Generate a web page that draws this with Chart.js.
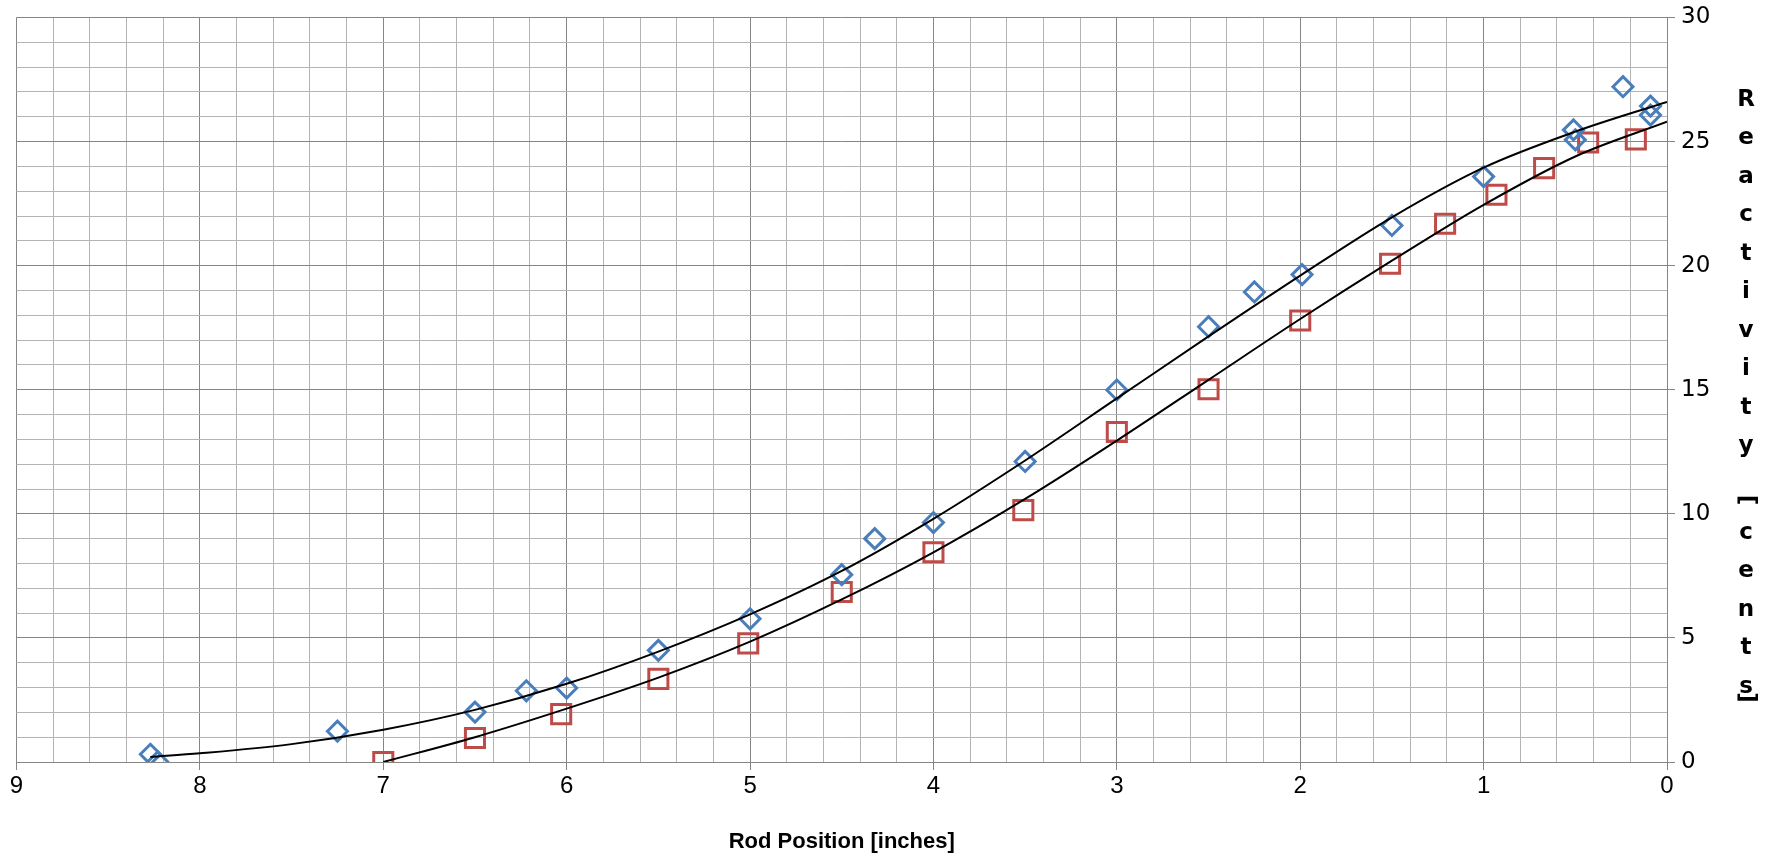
<!DOCTYPE html>
<html>
<head>
<meta charset="utf-8">
<script src="https://cdn.jsdelivr.net/npm/chart.js@4.4.1/dist/chart.umd.min.js"></script>
<style>
    html, body { margin: 0; padding: 0; background: #fff; }
    #wrap { width: 1768px; height: 853px; }
</style>
</head>
<body>
<div id="wrap"><canvas id="rodChart" width="1768" height="853"></canvas></div>
<script>
// measured points (blue diamonds)
const blueX = [8.27, 8.23, 7.25, 6.50, 6.22, 6.00, 5.50, 5.00, 4.50, 4.32, 4.00, 3.50, 3.00, 2.50, 2.25, 1.99, 1.50, 1.00, 0.51, 0.50, 0.24, 0.09, 0.09];
const blueY = [0.31, 0.01, 1.24, 2.01, 2.87, 2.98, 4.50, 5.77, 7.55, 9.00, 9.65, 12.11, 14.99, 17.54, 18.94, 19.64, 21.62, 23.59, 25.47, 25.07, 27.21, 26.43, 26.07];

// measured points (red squares)
const redX = [7.00, 6.50, 6.03, 5.50, 5.01, 4.50, 4.00, 3.51, 3.00, 2.50, 2.00, 1.51, 1.21, 0.93, 0.67, 0.43, 0.17];
const redY = [0.00, 0.97, 1.93, 3.35, 4.78, 6.85, 8.45, 10.15, 13.30, 15.02, 17.79, 20.08, 21.69, 22.86, 23.93, 24.96, 25.09];

// trend lines
const fitBlueX = [0, 0.5, 1, 1.5, 2, 2.5, 3, 3.5, 4, 4.5, 5, 5.5, 6, 6.5, 7, 7.5, 8, 8.27];
const fitBlueY = [26.6, 25.4, 23.95, 21.95, 19.6, 17.15, 14.65, 12.15, 9.8, 7.7, 5.95, 4.45, 3.15, 2.1, 1.3, 0.72, 0.35, 0.2];
const fitRedX = [0, 0.5, 1, 1.5, 2, 2.5, 3, 3.5, 4, 4.5, 5, 5.5, 6, 6.5, 7];
const fitRedY = [25.8, 24.4, 22.45, 20.2, 17.85, 15.4, 12.95, 10.6, 8.45, 6.55, 4.85, 3.4, 2.15, 1.0, 0.0];

const xTitle = 'Rod Position [inches]';
const yTitle = 'Reactivity [cents]';

function pairs(xs, ys) {
    return xs.map((x, i) => ({ x: x, y: ys[i] }));
}

function isInt(v) {
    return Math.abs(v - Math.round(v)) < 1e-6;
}

const MAJOR = '#868686';
const MINOR = '#B4B4B4';

// vertical stacked axis title on the right side
const stackedTitle = {
    id: 'stackedTitle',
    afterDraw(chart) {
        const ctx = chart.ctx;
        const cx = 1746;
        let y = 100;
        ctx.save();
        ctx.fillStyle = '#000';
        ctx.font = 'bold 23px "DejaVu Sans"';
        ctx.textAlign = 'center';
        ctx.textBaseline = 'middle';
        for (const ch of yTitle) {
            if (ch === ' ') {
                y += 15;
                continue;
            }
            if (ch === '[' || ch === ']') {
                const cy = ch === '[' ? y : y - 28;
                ctx.save();
                ctx.translate(cx, cy);
                ctx.rotate(Math.PI / 2);
                ctx.fillText(ch, 0, 0);
                ctx.restore();
                y += 33;
                continue;
            }
            ctx.fillText(ch, cx, y);
            y += 38.5;
        }
        ctx.restore();
    }
};

const ctx = document.getElementById('rodChart').getContext('2d');
const rodChart = new Chart(ctx, {
    type: 'scatter',
    data: {
        datasets: [
            {
                label: 'fit 1',
                data: pairs(fitBlueX, fitBlueY),
                showLine: true,
                borderColor: '#000',
                borderWidth: 2,
                pointRadius: 0,
                cubicInterpolationMode: 'monotone'
            },
            {
                label: 'fit 2',
                data: pairs(fitRedX, fitRedY),
                showLine: true,
                borderColor: '#000',
                borderWidth: 2,
                pointRadius: 0,
                cubicInterpolationMode: 'monotone'
            },
            {
                label: 'Series 1',
                data: pairs(blueX, blueY),
                pointStyle: 'rectRot',
                pointRadius: 10,
                borderWidth: 3,
                borderColor: '#4A7EBB',
                backgroundColor: 'rgba(0,0,0,0)'
            },
            {
                label: 'Series 2',
                data: pairs(redX, redY),
                pointStyle: 'rect',
                pointRadius: 13.5,
                borderWidth: 3,
                borderColor: '#BE4B48',
                backgroundColor: 'rgba(0,0,0,0)'
            }
        ]
    },
    options: {
        responsive: false,
        animation: false,
        layout: { padding: { left: 15, top: 15, right: 0, bottom: 0 } },
        plugins: {
            legend: { display: false },
            tooltip: { enabled: false }
        },
        scales: {
            x: {
                type: 'linear',
                reverse: true,
                min: 0,
                max: 9,
                afterFit: function (scale) { scale.height = 91; },
                ticks: {
                    stepSize: 0.2,
                    autoSkip: false,
                    maxTicksLimit: 100,
                    maxRotation: 0,
                    padding: 4,
                    color: '#000',
                    font: { family: '"Liberation Sans Narrow", "Liberation Sans"', size: 24, lineHeight: 1 },
                    callback: function (v) { return isInt(v) ? String(Math.round(v)) : ''; }
                },
                grid: {
                    color: c => (c.tick && isInt(c.tick.value)) ? MAJOR : MINOR,
                    tickColor: c => (c.tick && isInt(c.tick.value)) ? MAJOR : 'rgba(0,0,0,0)',
                    tickLength: 8,
                    lineWidth: 1
                },
                border: { color: MAJOR, width: 1 },
                title: {
                    display: true,
                    text: xTitle,
                    color: '#000',
                    padding: 0,
                    font: { family: '"Liberation Sans"', size: 22, weight: 'bold', lineHeight: 1 }
                }
            },
            y: {
                type: 'linear',
                position: 'right',
                min: 0,
                max: 30,
                afterFit: function (scale) { scale.width = 101; },
                ticks: {
                    stepSize: 1,
                    autoSkip: false,
                    maxTicksLimit: 100,
                    padding: 6,
                    color: '#000',
                    font: { family: '"DejaVu Sans"', size: 23, lineHeight: 1 },
                    callback: function (v) { return Math.round(v) % 5 === 0 ? String(Math.round(v)) : ''; }
                },
                grid: {
                    color: c => (c.tick && Math.round(c.tick.value) % 5 === 0) ? MAJOR : MINOR,
                    tickColor: c => (c.tick && Math.round(c.tick.value) % 5 === 0) ? MAJOR : 'rgba(0,0,0,0)',
                    tickLength: 8,
                    lineWidth: 1
                },
                border: { color: MAJOR, width: 1 }
            }
        }
    },
    plugins: [stackedTitle]
});
</script>
</body>
</html>
